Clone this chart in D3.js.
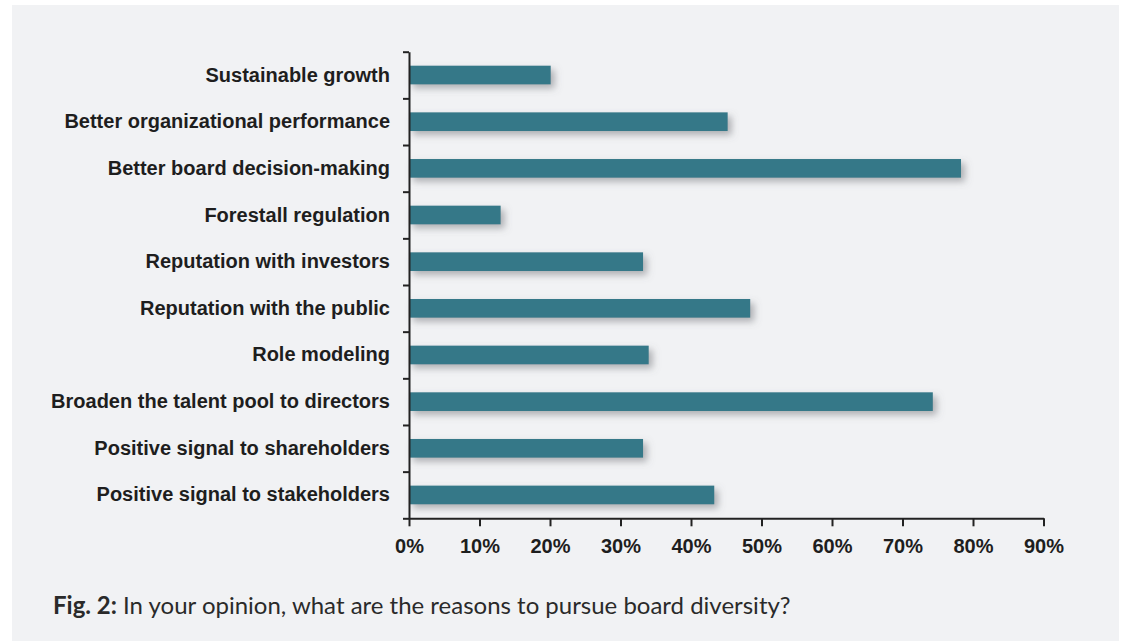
<!DOCTYPE html>
<html>
<head>
<meta charset="utf-8">
<script src="https://cdn.jsdelivr.net/npm/d3@7/dist/d3.min.js"></script>
<style>
  html, body { margin: 0; padding: 0; background: #ffffff; }
  svg { display: block; }
</style>
</head>
<body>
<svg id="chart" width="1122" height="642"></svg>
<script>
// Survey answers, top to bottom
const categories = [
  "Sustainable growth",
  "Better organizational performance",
  "Better board decision-making",
  "Forestall regulation",
  "Reputation with investors",
  "Reputation with the public",
  "Role modeling",
  "Broaden the talent pool to directors",
  "Positive signal to shareholders",
  "Positive signal to stakeholders"
];
// Share of respondents (%)
const values = [20.1, 45.2, 78.3, 13.0, 33.2, 48.4, 34.0, 74.3, 33.2, 43.3];
const xTicks = [0, 10, 20, 30, 40, 50, 60, 70, 80, 90];
const captionLead = "Fig. 2:";
const captionText = " In your opinion, what are the reasons to pursue board diversity?";

const svg = d3.select("#chart");

// panel background
svg.append("rect")
  .attr("x", 12).attr("y", 5)
  .attr("width", 1107).attr("height", 636)
  .attr("fill", "#f1f2f4");

const defs = svg.append("defs");
const f = defs.append("filter").attr("id", "barShadow")
  .attr("x", "-10%").attr("y", "-50%").attr("width", "130%").attr("height", "250%");
f.append("feDropShadow")
  .attr("dx", 4).attr("dy", 4).attr("stdDeviation", 3.5)
  .attr("flood-color", "#6b6e73").attr("flood-opacity", 0.5);

const plotLeft = 409, plotRight = 1043.5, plotTop = 51.7, plotBottom = 518.3;

const x = d3.scaleLinear().domain([0, 90]).range([plotLeft, plotRight]);
const y = d3.scaleBand().domain(categories).range([plotTop, plotBottom])
  .paddingInner(0.6).paddingOuter(0.3);

// bars
svg.append("g")
  .selectAll("rect")
  .data(categories)
  .join("rect")
  .attr("x", x(0))
  .attr("y", d => y(d))
  .attr("width", (d, i) => x(values[i]) - x(0))
  .attr("height", y.bandwidth())
  .attr("fill", "#367888")
  .attr("filter", "url(#barShadow)");

// category labels
svg.append("g")
  .selectAll("text")
  .data(categories)
  .join("text")
  .attr("x", 390)
  .attr("y", d => y(d) + y.bandwidth() / 2 - 0.5)
  .attr("dy", "0.35em")
  .attr("text-anchor", "end")
  .attr("font-family", "'Liberation Sans', Arial, sans-serif")
  .attr("font-weight", "bold")
  .attr("font-size", 20)
  .attr("fill", "#1e1e1e")
  .text(d => d);

// y axis: ticks on band boundaries
const yb = d3.scaleLinear().domain([0, categories.length]).range([plotTop, plotBottom]);
const yAxis = svg.append("g")
  .attr("transform", `translate(${plotLeft},0)`)
  .call(d3.axisLeft(yb).tickValues(d3.range(categories.length + 1)).tickSize(6).tickSizeOuter(0).tickFormat(""));
yAxis.select(".domain").attr("stroke", "#222").attr("stroke-width", 2);
yAxis.selectAll(".tick line").attr("stroke", "#222").attr("stroke-width", 2);

// x axis
const xAxis = svg.append("g")
  .attr("transform", `translate(0,${plotBottom})`)
  .call(d3.axisBottom(x).tickValues(xTicks).tickSize(8).tickSizeOuter(0).tickFormat(d => d + "%"));
xAxis.select(".domain").attr("stroke", "#222").attr("stroke-width", 2);
xAxis.selectAll(".tick line").attr("stroke", "#222").attr("stroke-width", 2);
xAxis.selectAll(".tick text")
  .attr("y", 28)
  .attr("dy", "0.35em")
  .attr("font-family", "'Liberation Sans', Arial, sans-serif")
  .attr("font-weight", "bold")
  .attr("font-size", 20)
  .attr("fill", "#1e1e1e");

// caption
const cap = svg.append("text")
  .attr("x", 53).attr("y", 614)
  .attr("font-family", "Lato, 'Open Sans', sans-serif")
  .attr("font-size", 21)
  .attr("fill", "#2a2a2a");
cap.append("tspan").attr("font-weight", "bold").text(captionLead);
cap.append("tspan").text(captionText);
const w = cap.node().getComputedTextLength();
cap.attr("font-size", 21 * 738 / w);
</script>
</body>
</html>
